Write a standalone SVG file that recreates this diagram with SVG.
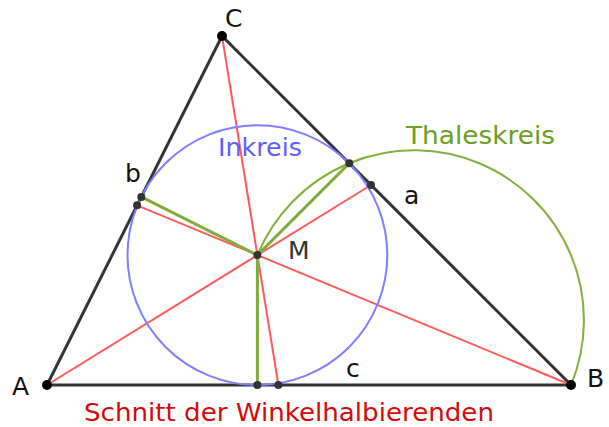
<svg xmlns="http://www.w3.org/2000/svg" width="609" height="427" viewBox="0 0 609 427">
<style>
.side{stroke:#333;stroke-width:3;fill:none;stroke-linecap:round}
.bis{stroke:#ff5a5a;stroke-width:2;fill:none}
.rad{stroke:#7fad3a;stroke-width:3;fill:none}
.thales{stroke:#84b03e;stroke-width:2;fill:none}
.incircle{stroke:#7f7fff;stroke-width:2;fill:none}
.vtx{fill:#000}
.pt{fill:#333}
text{font-family:"DejaVu Sans","Liberation Sans",sans-serif;font-size:25px}
.lbl{fill:#111}
</style>
<g id="connectors">
<path class="side" d="M47,385 L571,385 L222,36 Z"/>
<line class="bis" x1="47" y1="385" x2="371" y2="185"/>
<line class="bis" x1="571" y1="385" x2="137.1" y2="205.3"/>
<line class="bis" x1="222" y1="36" x2="278.4" y2="385"/>
<line class="rad" x1="257.4" y1="255.1" x2="257.4" y2="385"/>
<line class="rad" x1="257.4" y1="255.1" x2="141.3" y2="196.9"/>
<line class="rad" x1="257.4" y1="255.1" x2="349.3" y2="163.3"/>
</g>
<g id="incircle">
<circle class="incircle" cx="257.4" cy="255.1" r="129.9"/>
<text x="218" y="156" fill="#5f5fff" textLength="84" lengthAdjust="spacingAndGlyphs">Inkreis</text>
</g>
<g id="thaleskreis">
<path class="thales" d="M257.4,255.1 A169.7,169.7 0 0 1 571,385"/>
<text x="406" y="144" fill="#6c9e22" textLength="149" lengthAdjust="spacingAndGlyphs">Thaleskreis</text>
</g>
<g id="A"><circle class="vtx" cx="47" cy="385" r="5"/><text class="lbl" x="12" y="395">A</text></g>
<g id="B"><circle class="vtx" cx="571" cy="385" r="5"/><text class="lbl" x="587" y="387">B</text></g>
<g id="C"><circle class="vtx" cx="222" cy="36" r="5"/><text class="lbl" x="225" y="27">C</text></g>
<g id="M"><circle class="pt" cx="257.4" cy="255.1" r="4"/><text x="288" y="259" fill="#333">M</text></g>
<g id="points">
<circle class="pt" cx="257.4" cy="385" r="4"/>
<circle class="pt" cx="278.4" cy="385" r="4"/>
<circle class="pt" cx="141.3" cy="196.9" r="4"/>
<circle class="pt" cx="137.1" cy="205.3" r="4"/>
<circle class="pt" cx="349.3" cy="163.3" r="4"/>
<circle class="pt" cx="371" cy="185" r="4"/>
</g>
<g id="side-labels">
<text class="lbl" x="125" y="182">b</text>
<text class="lbl" x="404" y="204">a</text>
<text class="lbl" x="346" y="377">c</text>
</g>
<g id="title">
<text x="84" y="421" fill="#d40a0a" textLength="410" lengthAdjust="spacingAndGlyphs">Schnitt der Winkelhalbierenden</text>
</g>
</svg>
